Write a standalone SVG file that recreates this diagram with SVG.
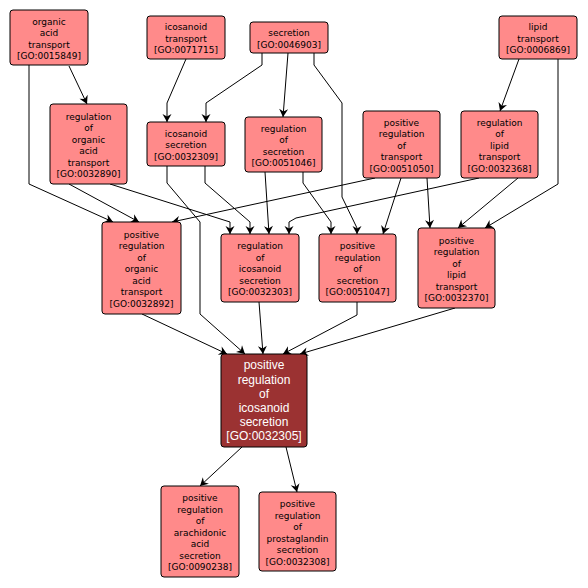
<svg xmlns="http://www.w3.org/2000/svg" width="588" height="588" viewBox="0 0 588 588">
<style>
.n rect{fill:#FF8A8A;stroke:#000;stroke-width:1}
.n text{font-family:"DejaVu Sans",sans-serif;font-size:9px;fill:#000;text-anchor:middle}
.m rect{fill:#9B3232;stroke:#000;stroke-width:1}
.m text{font-family:"Liberation Sans",Arial,sans-serif;font-size:12px;fill:#fff;text-anchor:middle}
#edges path{fill:none;stroke:#000;stroke-width:1;marker-end:url(#a)}
</style>
<defs>
<marker id="a" markerUnits="userSpaceOnUse" markerWidth="12" markerHeight="12" viewBox="-1 -6 11 12" refX="8" refY="0" orient="auto">
<path d="M0,-4.5 L8,0 L0,4.5 L2.5,0 z" fill="#000"/>
</marker>
</defs>
<rect width="588" height="588" fill="#fff"/>
<g id="edges">
<path d="M69,66 L87,104"/>
<path d="M29,65 L29,184 L113,222"/>
<path d="M69,184 L139,222"/>
<path d="M110,184 L230,222 L230,234"/>
<path d="M205,166 L205,183 L250,222 L250,234"/>
<path d="M167,166 L167,183 L200,222 L200,314 L245,354"/>
<path d="M186,59 L167,103 L167,122"/>
<path d="M262,53 L262,65 L206,103 L206,122"/>
<path d="M288,53 L283,117"/>
<path d="M314,53 L314,65 L342,103 L342,197 L357,228 L357,234"/>
<path d="M265,172 L269,234"/>
<path d="M303,172 L303,183 L331,222 L331,234"/>
<path d="M375,178 L172,222"/>
<path d="M401,178 L383,234"/>
<path d="M427,178 L430,228"/>
<path d="M479,178 L296,218 L289,222 L289,234"/>
<path d="M518,178 L458,228"/>
<path d="M519,59 L500,111"/>
<path d="M558,59 L558,184 L485,228"/>
<path d="M142,314 L227,354"/>
<path d="M259,302 L263,354"/>
<path d="M357,302 L357,315 L283,354"/>
<path d="M455,308 L300,354"/>
<path d="M242,447 L200,486"/>
<path d="M286,447 L297,492"/>
</g>
<g id="GO0015849" class="n"><rect x="10" y="10" width="78" height="55" rx="3"/>
<text><tspan x="49" y="24.5">organic</tspan><tspan x="49" y="36">acid</tspan><tspan x="49" y="47.5">transport</tspan><tspan x="49" y="59">[GO:0015849]</tspan></text></g>
<g id="GO0071715" class="n"><rect x="147" y="16" width="78" height="43" rx="3"/>
<text><tspan x="186" y="30.2">icosanoid</tspan><tspan x="186" y="41.7">transport</tspan><tspan x="186" y="53.2">[GO:0071715]</tspan></text></g>
<g id="GO0046903" class="n"><rect x="250" y="22" width="78" height="31" rx="3"/>
<text><tspan x="289" y="36">secretion</tspan><tspan x="289" y="47.5">[GO:0046903]</tspan></text></g>
<g id="GO0006869" class="n"><rect x="499" y="16" width="78" height="43" rx="3"/>
<text><tspan x="538" y="30.2">lipid</tspan><tspan x="538" y="41.7">transport</tspan><tspan x="538" y="53.2">[GO:0006869]</tspan></text></g>
<g id="GO0032890" class="n"><rect x="50" y="104" width="77" height="80" rx="3"/>
<text><tspan x="88.5" y="119.5">regulation</tspan><tspan x="88.5" y="131">of</tspan><tspan x="88.5" y="142.5">organic</tspan><tspan x="88.5" y="154">acid</tspan><tspan x="88.5" y="165.5">transport</tspan><tspan x="88.5" y="177">[GO:0032890]</tspan></text></g>
<g id="GO0032309" class="n"><rect x="147" y="122" width="78" height="44" rx="3"/>
<text><tspan x="186" y="136.7">icosanoid</tspan><tspan x="186" y="148.2">secretion</tspan><tspan x="186" y="159.7">[GO:0032309]</tspan></text></g>
<g id="GO0051046" class="n"><rect x="245" y="117" width="77" height="55" rx="3"/>
<text><tspan x="283.5" y="131.5">regulation</tspan><tspan x="283.5" y="143">of</tspan><tspan x="283.5" y="154.5">secretion</tspan><tspan x="283.5" y="166">[GO:0051046]</tspan></text></g>
<g id="GO0051050" class="n"><rect x="363" y="111" width="77" height="67" rx="3"/>
<text><tspan x="401.5" y="125.7">positive</tspan><tspan x="401.5" y="137.2">regulation</tspan><tspan x="401.5" y="148.7">of</tspan><tspan x="401.5" y="160.2">transport</tspan><tspan x="401.5" y="171.7">[GO:0051050]</tspan></text></g>
<g id="GO0032368" class="n"><rect x="461" y="111" width="77" height="67" rx="3"/>
<text><tspan x="499.5" y="125.7">regulation</tspan><tspan x="499.5" y="137.2">of</tspan><tspan x="499.5" y="148.7">lipid</tspan><tspan x="499.5" y="160.2">transport</tspan><tspan x="499.5" y="171.7">[GO:0032368]</tspan></text></g>
<g id="GO0032892" class="n"><rect x="102" y="222" width="79" height="92" rx="3"/>
<text><tspan x="141.5" y="237.7">positive</tspan><tspan x="141.5" y="249.2">regulation</tspan><tspan x="141.5" y="260.7">of</tspan><tspan x="141.5" y="272.2">organic</tspan><tspan x="141.5" y="283.7">acid</tspan><tspan x="141.5" y="295.2">transport</tspan><tspan x="141.5" y="306.7">[GO:0032892]</tspan></text></g>
<g id="GO0032303" class="n"><rect x="221" y="234" width="78" height="68" rx="3"/>
<text><tspan x="260" y="249.2">regulation</tspan><tspan x="260" y="260.7">of</tspan><tspan x="260" y="272.2">icosanoid</tspan><tspan x="260" y="283.7">secretion</tspan><tspan x="260" y="295.2">[GO:0032303]</tspan></text></g>
<g id="GO0051047" class="n"><rect x="319" y="234" width="77" height="68" rx="3"/>
<text><tspan x="357.5" y="249.2">positive</tspan><tspan x="357.5" y="260.7">regulation</tspan><tspan x="357.5" y="272.2">of</tspan><tspan x="357.5" y="283.7">secretion</tspan><tspan x="357.5" y="295.2">[GO:0051047]</tspan></text></g>
<g id="GO0032370" class="n"><rect x="418" y="228" width="77" height="80" rx="3"/>
<text><tspan x="456.5" y="243.5">positive</tspan><tspan x="456.5" y="255">regulation</tspan><tspan x="456.5" y="266.5">of</tspan><tspan x="456.5" y="278">lipid</tspan><tspan x="456.5" y="289.5">transport</tspan><tspan x="456.5" y="301">[GO:0032370]</tspan></text></g>
<g id="GO0032305" class="m"><rect x="221" y="354" width="86" height="93" rx="3"/>
<text><tspan x="264" y="369.3">positive</tspan><tspan x="264" y="383.5">regulation</tspan><tspan x="264" y="397.7">of</tspan><tspan x="264" y="411.9">icosanoid</tspan><tspan x="264" y="426.1">secretion</tspan><tspan x="264" y="440.3">[GO:0032305]</tspan></text></g>
<g id="GO0090238" class="n"><rect x="161" y="486" width="78" height="91" rx="3"/>
<text><tspan x="200" y="501.2">positive</tspan><tspan x="200" y="512.7">regulation</tspan><tspan x="200" y="524.2">of</tspan><tspan x="200" y="535.7">arachidonic</tspan><tspan x="200" y="547.2">acid</tspan><tspan x="200" y="558.7">secretion</tspan><tspan x="200" y="570.2">[GO:0090238]</tspan></text></g>
<g id="GO0032308" class="n"><rect x="259" y="492" width="77" height="79" rx="3"/>
<text><tspan x="297.5" y="507">positive</tspan><tspan x="297.5" y="518.5">regulation</tspan><tspan x="297.5" y="530">of</tspan><tspan x="297.5" y="541.5">prostaglandin</tspan><tspan x="297.5" y="553">secretion</tspan><tspan x="297.5" y="564.5">[GO:0032308]</tspan></text></g>
</svg>
